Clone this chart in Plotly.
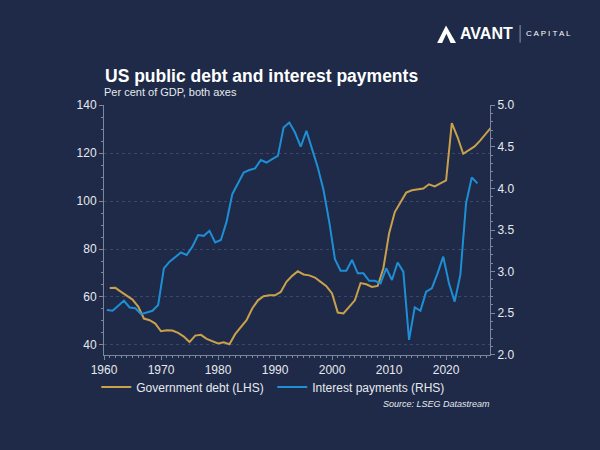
'''
US public debt and interest payments, per cent of GDP
'''

import plotly.graph_objects as go

# Government debt (LHS), % of GDP, annual 1960-2027
debt_years = list(range(1960, 2028))
debt = [63.7, 63.8, 62.1, 60.4, 58.9, 56.0, 51.0, 50.3, 48.9, 45.7,
        46.1, 46.0, 45.0, 43.5, 41.2, 43.9, 44.2, 42.5, 41.7, 40.6,
        41.1, 40.3, 44.5, 47.5, 50.3, 55.2, 58.6, 60.3, 60.7, 60.7,
        62.1, 66.3, 68.8, 70.7, 69.4, 69.0, 68.1, 66.3, 64.5, 61.5,
        53.5, 53.1, 55.8, 58.6, 65.8, 65.3, 64.2, 64.6, 72.0, 86.5,
        95.4, 99.6, 103.5, 104.5, 104.9, 105.2, 107.0, 106.1, 107.4, 108.6,
        132.5, 126.7, 119.7, 121.1, 122.8, 125.3, 128.0, 131.0]

# Interest payments (RHS), % of GDP, annual 1960-2025
int_years = list(range(1960, 2026))
interest = [2.54, 2.53, 2.59, 2.65, 2.57, 2.56, 2.49, 2.51, 2.53, 2.60,
            3.04, 3.12, 3.18, 3.23, 3.20, 3.30, 3.44, 3.43, 3.49, 3.35,
            3.38, 3.60, 3.93, 4.06, 4.19, 4.22, 4.24, 4.34, 4.31, 4.35,
            4.39, 4.73, 4.79, 4.67, 4.50, 4.69, 4.48, 4.25, 3.98, 3.60,
            3.15, 3.01, 3.01, 3.14, 2.98, 2.98, 2.89, 2.89, 2.86, 3.04,
            2.90, 3.11, 3.00, 2.18, 2.57, 2.53, 2.76, 2.80, 2.98, 3.18,
            2.86, 2.64, 2.96, 3.82, 4.13, 4.06]

BG = '#1e2a47'
GOLD = '#c9a04c'
BLUE = '#1e8fd5'
TXT = '#e6e9ef'
AXIS = '#7d879b'
FONT = 'Liberation Sans, Arial, sans-serif'

# debt is an end-of-year stock, interest a flow over the year (plotted mid-year)
debt_x = [y + 1.0 for y in debt_years]
int_x = [y + 0.5 for y in int_years]

fig = go.Figure()
fig.add_trace(go.Scatter(x=debt_x, y=debt, mode='lines', name='Government debt (LHS)',
                         line=dict(color=GOLD, width=2)))
fig.add_trace(go.Scatter(x=int_x, y=interest, mode='lines', name='Interest payments (RHS)',
                         line=dict(color=BLUE, width=2), yaxis='y2'))

axis_common = dict(showline=True, linecolor=AXIS, linewidth=1, ticks='outside',
                   tickcolor=AXIS, ticklen=4, tickfont=dict(size=12, color=TXT),
                   zeroline=False)

fig.update_layout(
    width=600, height=450,
    paper_bgcolor=BG, plot_bgcolor=BG,
    font=dict(family=FONT, color=TXT),
    margin=dict(l=104, r=110, t=105, b=95),
    showlegend=True,
    legend=dict(orientation='h', x=-0.02, xanchor='left', y=-0.128, yanchor='middle',
                font=dict(size=12, color=TXT), bgcolor='rgba(0,0,0,0)',
                entrywidth=131, entrywidthmode='pixels'),
    xaxis=dict(axis_common, range=[1960, 2027.7], tick0=1960, dtick=10, showgrid=False,
               minor=dict(dtick=1, ticklen=2, tickcolor=AXIS, ticks='outside')),
    yaxis=dict(axis_common, range=[35.8, 140.05], tick0=40, dtick=20, showgrid=True,
               gridcolor='#3a4865', gridwidth=1, griddash='dot',
               minor=dict(dtick=5, ticklen=2, tickcolor=AXIS, ticks='outside')),
    yaxis2=dict(axis_common, overlaying='y', side='right', range=[1.999, 5.001],
                tick0=2, dtick=0.5, tickformat='.1f', showgrid=False,
                minor=dict(dtick=0.1, ticklen=2, tickcolor=AXIS, ticks='outside')),
)

fig.add_annotation(text='<b>US public debt and interest payments</b>', xref='paper', yref='paper',
                   x=-0.003, y=1.116, xanchor='left', yanchor='middle', showarrow=False,
                   font=dict(size=17.5, color='white'))
fig.add_annotation(text='Per cent of GDP, both axes', xref='paper', yref='paper',
                   x=-0.005, y=1.052, xanchor='left', yanchor='middle', showarrow=False,
                   font=dict(size=11, color=TXT))
fig.add_annotation(text='<i>Source: LSEG Datastream</i>', xref='paper', yref='paper',
                   x=1.005, y=-0.196, xanchor='right', yanchor='middle', showarrow=False,
                   font=dict(size=9, color=TXT))

# logo
fig.add_annotation(text='<b>AVANT</b>', xref='paper', yref='paper',
                   x=0.918, y=1.284, xanchor='left', yanchor='middle', showarrow=False,
                   font=dict(size=16, color='white'))
fig.add_annotation(text='C A P I T A L', xref='paper', yref='paper',
                   x=1.088, y=1.284, xanchor='left', yanchor='middle', showarrow=False,
                   font=dict(size=8, color='white'))
fig.add_shape(type='line', xref='paper', yref='paper', x0=1.078, x1=1.078, y0=1.25, y1=1.32,
              line=dict(color='#8d96a8', width=1))
fig.add_shape(type='path', xref='paper', yref='paper',
              path='M 0.863 1.248 L 0.886 1.318 L 0.912 1.248 Z',
              fillcolor='white', line=dict(width=0))
fig.add_shape(type='path', xref='paper', yref='paper',
              path='M 0.876 1.248 L 0.887 1.285 L 0.898 1.248 Z',
              fillcolor=BG, line=dict(width=0))

fig.write_html('out.html', config={'displayModeBar': False},
               post_script="document.body.style.margin='0';"
                           "document.body.style.background='%s';" % BG)
